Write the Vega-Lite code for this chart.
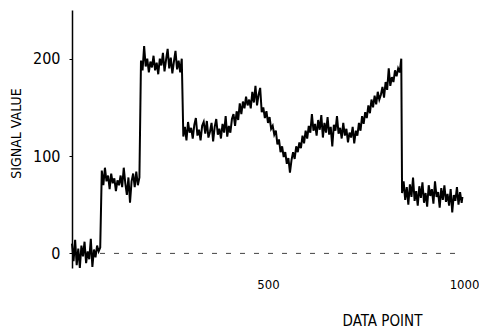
{
  "$schema": "https://vega.github.io/schema/vega-lite/v6.json",
  "width": 392,
  "height": 258,
  "autosize": {"type": "none"},
  "padding": {"left": 72, "top": 10, "right": 15, "bottom": 62},
  "background": "white",
  "config": {"view": {"stroke": null}, "font": "DejaVu Sans Condensed, Liberation Sans Narrow, sans-serif"},
  "datasets": {
    "base": [{"x": 0, "x2": 1000, "y": 0}],
    "sig": [
      {"x":0,"y":10},{"x":4,"y":-8},{"x":8,"y":14},{"x":12,"y":-12},{"x":16,"y":5},{"x":20,"y":-15},{"x":24,"y":8},{"x":28,"y":-3},{"x":32,"y":12},{"x":36,"y":-10},{"x":40,"y":2},{"x":44,"y":-6},{"x":48,"y":15},{"x":52,"y":-14},{"x":56,"y":4},{"x":60,"y":-4},{"x":64,"y":8},{"x":68,"y":2},{"x":72,"y":6},
      {"x":76,"y":85},{"x":80,"y":70},{"x":84,"y":88},{"x":88,"y":74},{"x":92,"y":80},{"x":96,"y":66},{"x":100,"y":82},{"x":104,"y":72},{"x":108,"y":77},{"x":112,"y":64},{"x":116,"y":75},{"x":120,"y":70},{"x":124,"y":80},{"x":128,"y":68},{"x":132,"y":88},{"x":136,"y":72},{"x":140,"y":60},{"x":144,"y":78},{"x":148,"y":52},{"x":152,"y":74},{"x":156,"y":82},{"x":160,"y":68},{"x":164,"y":84},{"x":168,"y":70},{"x":172,"y":78},
      {"x":176,"y":198},{"x":180,"y":188},{"x":184,"y":213},{"x":188,"y":192},{"x":192,"y":200},{"x":196,"y":186},{"x":200,"y":197},{"x":204,"y":191},{"x":208,"y":203},{"x":212,"y":188},{"x":216,"y":196},{"x":220,"y":184},{"x":224,"y":200},{"x":228,"y":193},{"x":232,"y":206},{"x":236,"y":187},{"x":240,"y":199},{"x":244,"y":210},{"x":248,"y":190},{"x":252,"y":201},{"x":256,"y":185},{"x":260,"y":197},{"x":264,"y":208},{"x":268,"y":189},{"x":272,"y":198},{"x":276,"y":186},{"x":280,"y":200},
      {"x":284,"y":120},{"x":288,"y":130},{"x":292,"y":116},{"x":296,"y":135},{"x":300,"y":124},{"x":304,"y":129},{"x":308,"y":118},{"x":312,"y":132},{"x":316,"y":139},{"x":320,"y":121},{"x":324,"y":127},{"x":328,"y":116},{"x":332,"y":131},{"x":336,"y":135},{"x":340,"y":123},{"x":344,"y":136},{"x":348,"y":119},{"x":352,"y":125},{"x":356,"y":134},{"x":360,"y":115},{"x":364,"y":130},{"x":368,"y":138},{"x":372,"y":122},{"x":376,"y":128},{"x":380,"y":118},{"x":384,"y":133},{"x":388,"y":124},{"x":392,"y":141},{"x":396,"y":120},{"x":400,"y":131},
      {"x":404,"y":124},{"x":408,"y":138},{"x":412,"y":143},{"x":416,"y":131},{"x":420,"y":146},{"x":424,"y":137},{"x":428,"y":154},{"x":432,"y":143},{"x":436,"y":156},{"x":440,"y":149},{"x":444,"y":161},{"x":448,"y":152},{"x":452,"y":158},{"x":456,"y":149},{"x":460,"y":166},{"x":464,"y":155},{"x":468,"y":172},{"x":472,"y":152},{"x":476,"y":163},{"x":480,"y":170},{"x":484,"y":145},{"x":488,"y":150},{"x":492,"y":139},{"x":496,"y":146},{"x":500,"y":134},
      {"x":504,"y":140},{"x":508,"y":128},{"x":512,"y":131},{"x":516,"y":122},{"x":520,"y":126},{"x":524,"y":112},{"x":528,"y":117},{"x":532,"y":104},{"x":536,"y":110},{"x":540,"y":99},{"x":544,"y":104},{"x":548,"y":92},{"x":552,"y":98},{"x":556,"y":83},{"x":560,"y":96},{"x":564,"y":104},{"x":568,"y":97},{"x":572,"y":110},{"x":576,"y":104},{"x":580,"y":114},{"x":584,"y":108},{"x":588,"y":121},{"x":592,"y":113},{"x":596,"y":126},{"x":600,"y":118},
      {"x":604,"y":131},{"x":608,"y":124},{"x":612,"y":143},{"x":616,"y":126},{"x":620,"y":133},{"x":624,"y":121},{"x":628,"y":137},{"x":632,"y":127},{"x":636,"y":142},{"x":640,"y":119},{"x":644,"y":134},{"x":648,"y":124},{"x":652,"y":140},{"x":656,"y":122},{"x":660,"y":130},{"x":664,"y":110},{"x":668,"y":132},{"x":672,"y":126},{"x":676,"y":141},{"x":680,"y":123},{"x":684,"y":129},{"x":688,"y":118},{"x":692,"y":134},{"x":696,"y":121},{"x":700,"y":128},
      {"x":704,"y":114},{"x":708,"y":124},{"x":712,"y":119},{"x":716,"y":130},{"x":720,"y":113},{"x":724,"y":126},{"x":728,"y":121},{"x":732,"y":134},{"x":736,"y":126},{"x":740,"y":141},{"x":744,"y":133},{"x":748,"y":145},{"x":752,"y":139},{"x":756,"y":152},{"x":760,"y":144},{"x":764,"y":158},{"x":768,"y":150},{"x":772,"y":162},{"x":776,"y":153},{"x":780,"y":166},{"x":784,"y":158},{"x":788,"y":163},{"x":792,"y":171},{"x":796,"y":160},{"x":800,"y":176},
      {"x":804,"y":168},{"x":808,"y":190},{"x":812,"y":172},{"x":816,"y":181},{"x":820,"y":176},{"x":824,"y":188},{"x":828,"y":182},{"x":832,"y":190},{"x":836,"y":186},{"x":840,"y":200},
      {"x":842,"y":62},{"x":846,"y":74},{"x":850,"y":55},{"x":854,"y":68},{"x":858,"y":50},{"x":862,"y":71},{"x":866,"y":58},{"x":870,"y":78},{"x":874,"y":54},{"x":878,"y":64},{"x":882,"y":49},{"x":886,"y":69},{"x":890,"y":57},{"x":894,"y":73},{"x":898,"y":52},{"x":902,"y":62},{"x":906,"y":48},{"x":910,"y":70},{"x":914,"y":59},{"x":918,"y":66},{"x":922,"y":51},{"x":926,"y":74},{"x":930,"y":58},{"x":934,"y":63},{"x":938,"y":47},{"x":942,"y":67},{"x":946,"y":55},{"x":950,"y":70},{"x":954,"y":53},{"x":958,"y":61},{"x":962,"y":49},{"x":966,"y":66},{"x":970,"y":42},{"x":974,"y":60},{"x":978,"y":54},{"x":982,"y":68},{"x":986,"y":50},{"x":990,"y":63},{"x":994,"y":52},{"x":996,"y":58}
    ]
  },
  "encoding": {
    "x": {
      "field": "x", "type": "quantitative",
      "scale": {"domain": [0, 1000], "nice": false, "zero": false},
      "axis": {
        "values": [500, 1000], "format": "d", "domain": false, "ticks": false, "grid": false,
        "labelFlush": false, "labelPadding": 10, "labelBaseline": "top",
        "labelFontSize": 13, "labelColor": "black", "labelOverlap": false,
        "title": "DATA POINT", "titleFontSize": 15, "titleFontWeight": "normal", "titleColor": "black",
        "titleX": 310, "titleY": 57, "titleAlign": "center", "titleBaseline": "alphabetic"
      }
    },
    "y": {
      "field": "y", "type": "quantitative",
      "scale": {"domain": [-15, 250], "nice": false, "zero": false},
      "axis": {
        "values": [0, 100, 200], "grid": false,
        "domainColor": "black", "domainWidth": 1.5,
        "tickColor": "black", "tickSize": 3, "tickWidth": 1,
        "labelPadding": 9, "labelFontSize": 16, "labelColor": "black",
        "title": "SIGNAL VALUE", "titleFontSize": 14, "titleFontWeight": "normal", "titleColor": "black",
        "titleX": -56, "titleY": 123, "titleAngle": 270, "titleAlign": "center", "titleBaseline": "middle"
      }
    }
  },
  "layer": [
    {
      "data": {"name": "base"},
      "mark": {"type": "rule", "strokeDash": [5, 9], "strokeWidth": 1, "color": "#444"},
      "encoding": {"x2": {"field": "x2"}}
    },
    {
      "data": {"name": "sig"},
      "mark": {"type": "line", "color": "black", "strokeWidth": 2}
    }
  ]
}
